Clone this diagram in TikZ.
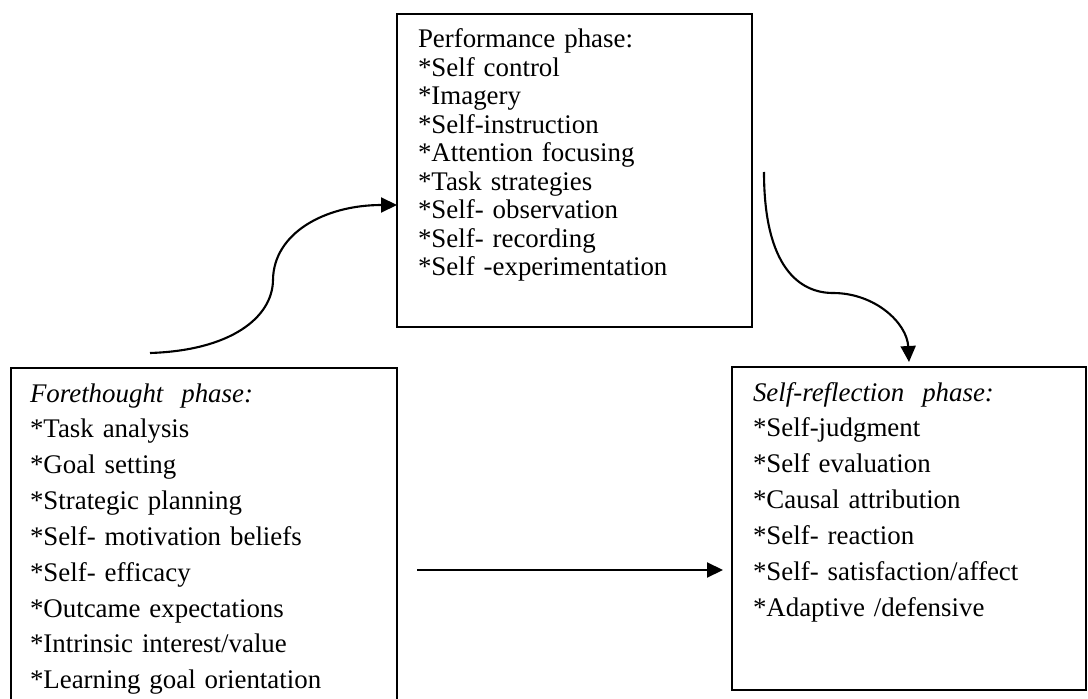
\documentclass[tikz,border=0pt]{standalone}
\usepackage{fontspec}
\setmainfont{Liberation Serif}
\usetikzlibrary{arrows.meta}
\tikzset{
	phasebox/.style={draw, line width=0.8pt, outer sep=0pt, inner ysep=0pt, align=left, anchor=base west},
	tightlines/.style={font=\fontsize{15.3}{16.2}\selectfont},
	widelines/.style={font=\fontsize{15.3}{20.4}\selectfont},
	phasearrow/.style={line width=1.2pt, -{Triangle[length=0.32cm,width=0.3cm]}}
}

\begin{document}
\begin{tikzpicture}
				\useasboundingbox (0, 0) rectangle (21.76, 13.96);
				
				\node[phasebox, tightlines, inner xsep=0.42cm, text width=6.26cm, text height=0.68cm, text depth=5.58cm] (perf) at (7.94, 13.00) {Performance phase:\\ {*}Self control\\ {*}Imagery\\ {*}Self-instruction\\ {*}Attention focusing\\ {*}Task strategies\\ {*}Self- observation\\ {*}Self- recording\\ {*}Self -experimentation};
				
				\node[phasebox, widelines, inner xsep=0.38cm, text width=6.96cm, text height=0.68cm, text depth=6.36cm] (fore) at (0.22, 5.92) {\textit{Forethought\ \ phase:}\\ {*}Task analysis\\ {*}Goal setting\\ {*}Strategic planning\\ {*}Self- motivation beliefs\\ {*}Self- efficacy\\ {*}Outcame expectations\\ {*}Intrinsic interest/value\\ {*}Learning goal orientation};
				
				\node[phasebox, widelines, inner xsep=0.42cm, text width=6.24cm, text height=0.68cm, text depth=5.78cm] (refl) at (14.64, 5.94) {\textit{Self-reflection\ \ phase:}\\ {*}Self-judgment\\ {*}Self evaluation\\ {*}Causal attribution\\ {*}Self- reaction\\ {*}Self- satisfaction/affect\\ {*}Adaptive /defensive};
				
				\coordinate (forestart) at (3.00, 6.90);
				\coordinate (perfin) at (7.94, 9.86);
				\coordinate (perfout) at (15.28, 10.52);
				\coordinate (reflin) at (18.18, 6.72);
				\coordinate (hstart) at (8.34, 2.56);
				\coordinate (hend) at (14.46, 2.56);
				
				\draw[phasearrow] (forestart) .. controls (4.6, 6.95) and (5.45, 7.6) .. (5.46, 8.36) .. controls (5.47, 9.3) and (6.5, 9.86) .. (perfin);
				\draw[phasearrow] (perfout) .. controls (15.28, 8.6) and (16.0, 8.10) .. (16.66, 8.10) .. controls (17.5, 8.10) and (18.14, 7.5) .. (reflin);
				\draw[phasearrow] (hstart) -- (hend);
			\end{tikzpicture}
\end{document}
